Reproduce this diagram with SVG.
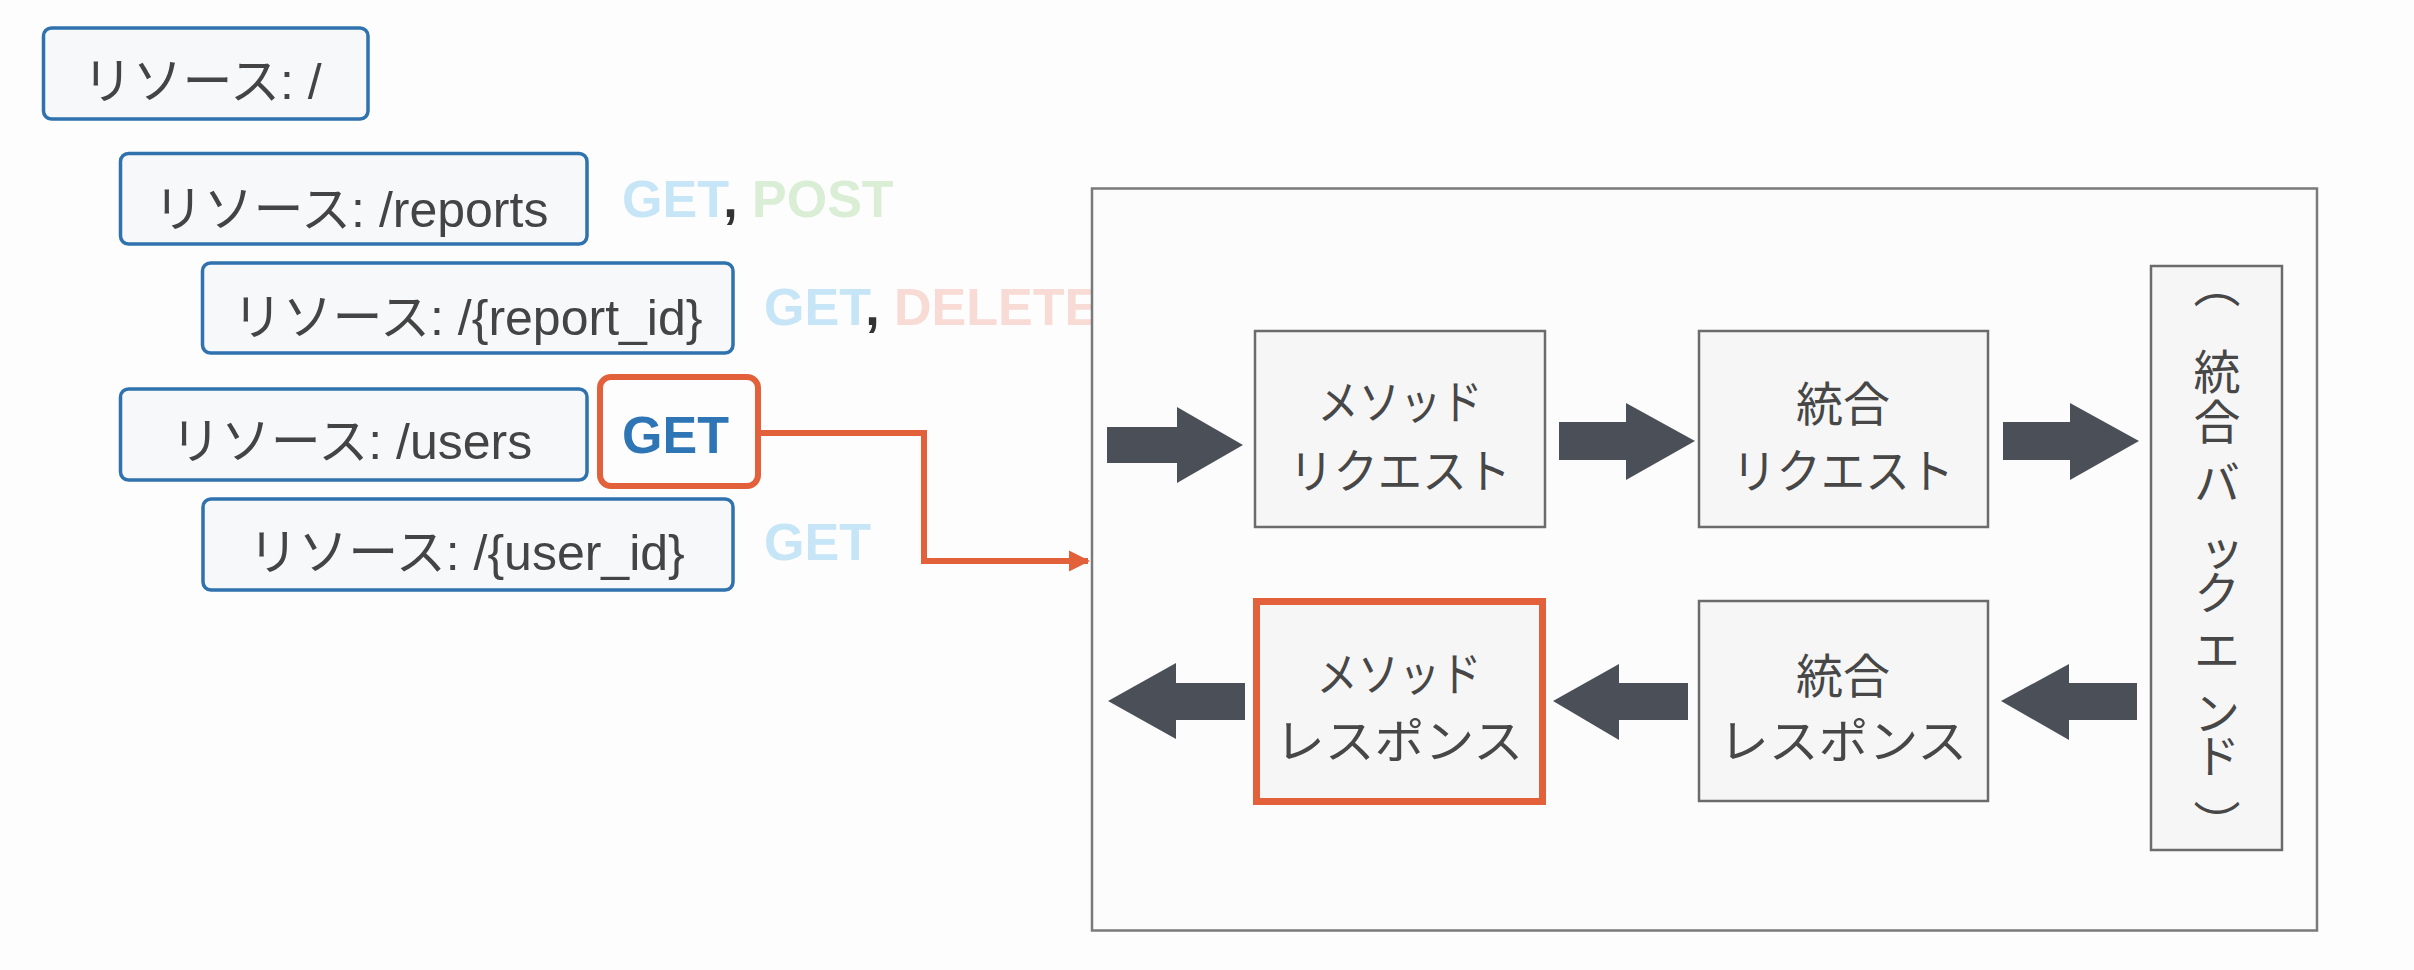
<svg xmlns="http://www.w3.org/2000/svg" width="2414" height="970" viewBox="0 0 2414 970">
<style>
.res{fill:#f7f8fa;stroke:#2f72ad;stroke-width:3.5}
.rt{font-family:"Liberation Sans","Noto Sans CJK JP",sans-serif;font-size:50px;fill:#444;text-anchor:middle}
.mt{font-family:"Liberation Sans",Arial,sans-serif;font-size:52px;font-weight:bold}
.box{fill:#f6f6f6;stroke:#6b6b6b;stroke-width:2.5}
.bt{font-family:"Noto Sans CJK JP",sans-serif;font-size:47px;fill:#474747;text-anchor:middle}
.arr{fill:#4b5058}
.lg{fill:#c6e5f6}.lp{fill:#d9eed5}.ld{fill:#f8dbd5}.cm{fill:#333}
</style>
<defs>
<marker id="oh" viewBox="0 0 10 10" refX="9" refY="5" markerWidth="3.6" markerHeight="3.6" orient="auto" markerUnits="strokeWidth">
<path d="M0,0 L10,5 L0,10 z" fill="#e2603a"/>
</marker>
</defs>
<rect width="2414" height="970" fill="#fdfdfe"/>

<g id="res-root"><rect class="res" x="43.5" y="28" width="324.5" height="91" rx="8"/><text class="rt" x="202" y="99">リソース: /</text></g>
<g id="res-reports"><rect class="res" x="120.5" y="153.5" width="466.5" height="90.5" rx="8"/><text class="rt" x="351" y="227">リソース: /reports</text></g>
<g id="methods-reports"><text class="mt" x="622" y="217"><tspan class="lg">GET</tspan><tspan class="cm">, </tspan><tspan class="lp">POST</tspan></text></g>
<g id="res-report-id"><rect class="res" x="202.5" y="263" width="530.5" height="90" rx="8"/><text class="rt" x="467.5" y="335">リソース: /{report_id}</text></g>
<g id="methods-report-id"><text class="mt" x="764" y="325"><tspan class="lg">GET</tspan><tspan class="cm">, </tspan><tspan class="ld">DELETE</tspan></text></g>
<g id="res-users"><rect class="res" x="120.5" y="389" width="466.5" height="91" rx="8"/><text class="rt" x="351.5" y="459">リソース: /users</text></g>
<g id="get-users"><rect x="600" y="377" width="158" height="109" rx="11" fill="#fdfdfe" stroke="#e2603a" stroke-width="6"/><text class="mt" x="622" y="453" fill="#2e75b6">GET</text></g>
<g id="res-user-id"><rect class="res" x="203" y="499" width="530" height="91" rx="8"/><text class="rt" x="466.5" y="570">リソース: /{user_id}</text></g>
<g id="methods-user-id"><text class="mt lg" x="764" y="560">GET</text></g>

<g id="container"><rect x="1092" y="188.5" width="1225" height="742" fill="#fcfcfd" stroke="#7a7a7a" stroke-width="2.5"/></g>

<g id="connectors">
<path d="M758,433 H924 V561 H1088" fill="none" stroke="#e2603a" stroke-width="6" marker-end="url(#oh)"/>
<polygon class="arr" points="1107,427 1177,427 1177,407 1243,445 1177,483 1177,463 1107,463"/>
<polygon class="arr" points="1559,422 1626,422 1626,403 1695,441 1626,480 1626,460 1559,460"/>
<polygon class="arr" points="2003,422 2070,422 2070,403 2139,441 2070,480 2070,460 2003,460"/>
<polygon class="arr" points="1245,683 1176,683 1176,663 1108,701 1176,739 1176,720 1245,720"/>
<polygon class="arr" points="1688,683 1619,683 1619,664 1553,701 1619,740 1619,720 1688,720"/>
<polygon class="arr" points="2137,683 2069,683 2069,664 2001,701 2069,740 2069,720 2137,720"/>
</g>

<g id="method-request"><rect class="box" x="1255" y="331" width="290" height="196"/><text class="bt" x="1400" y="419" textLength="165" lengthAdjust="spacingAndGlyphs">メソッド</text><text class="bt" x="1400" y="488" textLength="222" lengthAdjust="spacingAndGlyphs">リクエスト</text></g>
<g id="integration-request"><rect class="box" x="1699" y="331" width="289" height="196"/><text class="bt" x="1843" y="421">統合</text><text class="bt" x="1843" y="488" textLength="222" lengthAdjust="spacingAndGlyphs">リクエスト</text></g>
<g id="backend"><rect class="box" x="2151" y="266" width="131" height="584"/><text class="bt" font-size="46" x="2217" y="261 348 398 459 530 569 626 689 732 800" style="writing-mode:vertical-rl;text-anchor:start">︵統合バックエンド︶</text></g>
<g id="method-response"><rect x="1256.5" y="601.5" width="286" height="200" fill="#f6f6f6" stroke="#e2603a" stroke-width="7"/><text class="bt" x="1399" y="691" textLength="165" lengthAdjust="spacingAndGlyphs">メソッド</text><text class="bt" x="1399" y="758" textLength="248" lengthAdjust="spacingAndGlyphs">レスポンス</text></g>
<g id="integration-response"><rect class="box" x="1699" y="601" width="289" height="200"/><text class="bt" x="1843" y="693">統合</text><text class="bt" x="1843" y="758" textLength="248" lengthAdjust="spacingAndGlyphs">レスポンス</text></g>
</svg>
